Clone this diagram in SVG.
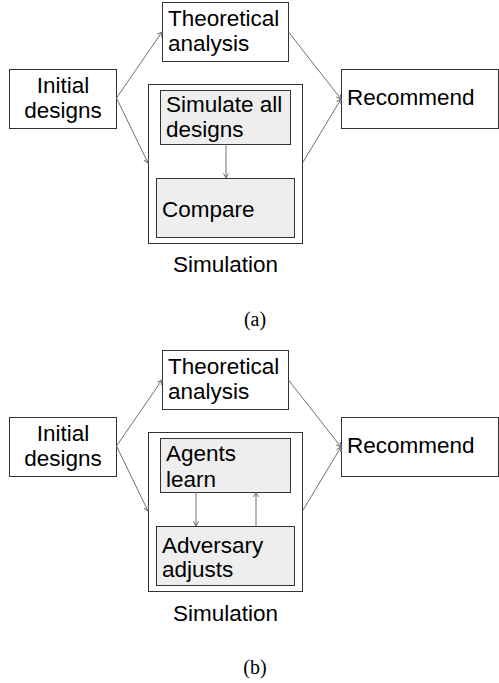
<svg xmlns="http://www.w3.org/2000/svg" width="499" height="683" viewBox="0 0 499 683">
<style>
  .box { fill: #ffffff; stroke: #333333; stroke-width: 1; }
  .inner { fill: #eeeeee; stroke: #333333; stroke-width: 1; }
  .t { font-family: "Liberation Sans", Arial, sans-serif; font-size: 22.5px; fill: #000000; }
  .cap { font-family: "Liberation Serif", "Times New Roman", serif; font-size: 20px; fill: #000000; }
  .conn { stroke: #707070; stroke-width: 1; fill: none; marker-end: url(#ah); }
</style>
<defs>
  <marker id="ah" markerWidth="6" markerHeight="6" refX="5" refY="3" orient="auto" markerUnits="userSpaceOnUse">
    <path d="M0.5,0.5 L5,3 L0.5,5.5" fill="none" stroke="#707070" stroke-width="1"/>
  </marker>
</defs>

<!-- Panel (a) -->
<g id="panel-a">
  <g id="a-initial">
    <rect class="box" x="9.5" y="69.5" width="107" height="59"/>
    <text class="t" text-anchor="middle"><tspan x="63" y="93">Initial</tspan><tspan x="63" y="118">designs</tspan></text>
  </g>
  <g id="a-theory">
    <rect class="box" x="162.5" y="2.5" width="126" height="59"/>
    <text class="t"><tspan x="168" y="26">Theoretical</tspan><tspan x="168" y="51">analysis</tspan></text>
  </g>
  <g id="a-simulation">
    <rect class="box" x="148.5" y="84.5" width="154" height="159"/>
    <text class="t" text-anchor="middle" x="225.5" y="272">Simulation</text>
  </g>
  <g id="a-simulate">
    <rect class="inner" x="160.5" y="90.5" width="130" height="54"/>
    <text class="t"><tspan x="166" y="112">Simulate all</tspan><tspan x="166" y="137">designs</tspan></text>
  </g>
  <g id="a-compare">
    <rect class="inner" x="156.5" y="178.5" width="138" height="59"/>
    <text class="t" x="162" y="217">Compare</text>
  </g>
  <g id="a-recommend">
    <rect class="box" x="341.5" y="69.5" width="157" height="59"/>
    <text class="t" x="347" y="105">Recommend</text>
  </g>
  <text class="cap" text-anchor="middle" x="255" y="326">(a)</text>
  <g id="a-connectors">
    <line class="conn" x1="116.5" y1="98" x2="162" y2="32"/>
    <line class="conn" x1="116.5" y1="98" x2="148" y2="163"/>
    <line class="conn" x1="226" y1="144.5" x2="226" y2="178"/>
    <line class="conn" x1="288.5" y1="32" x2="341" y2="99"/>
    <line class="conn" x1="302.5" y1="163" x2="341" y2="99"/>
  </g>
</g>

<!-- Panel (b) -->
<g id="panel-b" transform="translate(0,348)">
  <g id="b-initial">
    <rect class="box" x="9.5" y="69.5" width="107" height="59"/>
    <text class="t" text-anchor="middle"><tspan x="63" y="93">Initial</tspan><tspan x="63" y="118">designs</tspan></text>
  </g>
  <g id="b-theory">
    <rect class="box" x="162.5" y="2.5" width="126" height="59"/>
    <text class="t"><tspan x="168" y="26">Theoretical</tspan><tspan x="168" y="51">analysis</tspan></text>
  </g>
  <g id="b-simulation">
    <rect class="box" x="148.5" y="84.5" width="154" height="159"/>
    <text class="t" text-anchor="middle" x="225.5" y="273">Simulation</text>
  </g>
  <g id="b-agents">
    <rect class="inner" x="160.5" y="90.5" width="130" height="54"/>
    <text class="t"><tspan x="166" y="113">Agents</tspan><tspan x="166" y="139">learn</tspan></text>
  </g>
  <g id="b-adversary">
    <rect class="inner" x="156.5" y="178.5" width="138" height="59"/>
    <text class="t"><tspan x="162" y="205">Adversary</tspan><tspan x="162" y="229">adjusts</tspan></text>
  </g>
  <g id="b-recommend">
    <rect class="box" x="341.5" y="69.5" width="157" height="59"/>
    <text class="t" x="347" y="105">Recommend</text>
  </g>
  <text class="cap" text-anchor="middle" x="255" y="326">(b)</text>
  <g id="b-connectors">
    <line class="conn" x1="116.5" y1="98" x2="162" y2="32"/>
    <line class="conn" x1="116.5" y1="98" x2="148" y2="163"/>
    <line class="conn" x1="196" y1="144.5" x2="196" y2="178"/>
    <line class="conn" x1="256" y1="178" x2="256" y2="144.5"/>
    <line class="conn" x1="288.5" y1="32" x2="341" y2="99"/>
    <line class="conn" x1="302.5" y1="163" x2="341" y2="99"/>
  </g>
</g>
</svg>
